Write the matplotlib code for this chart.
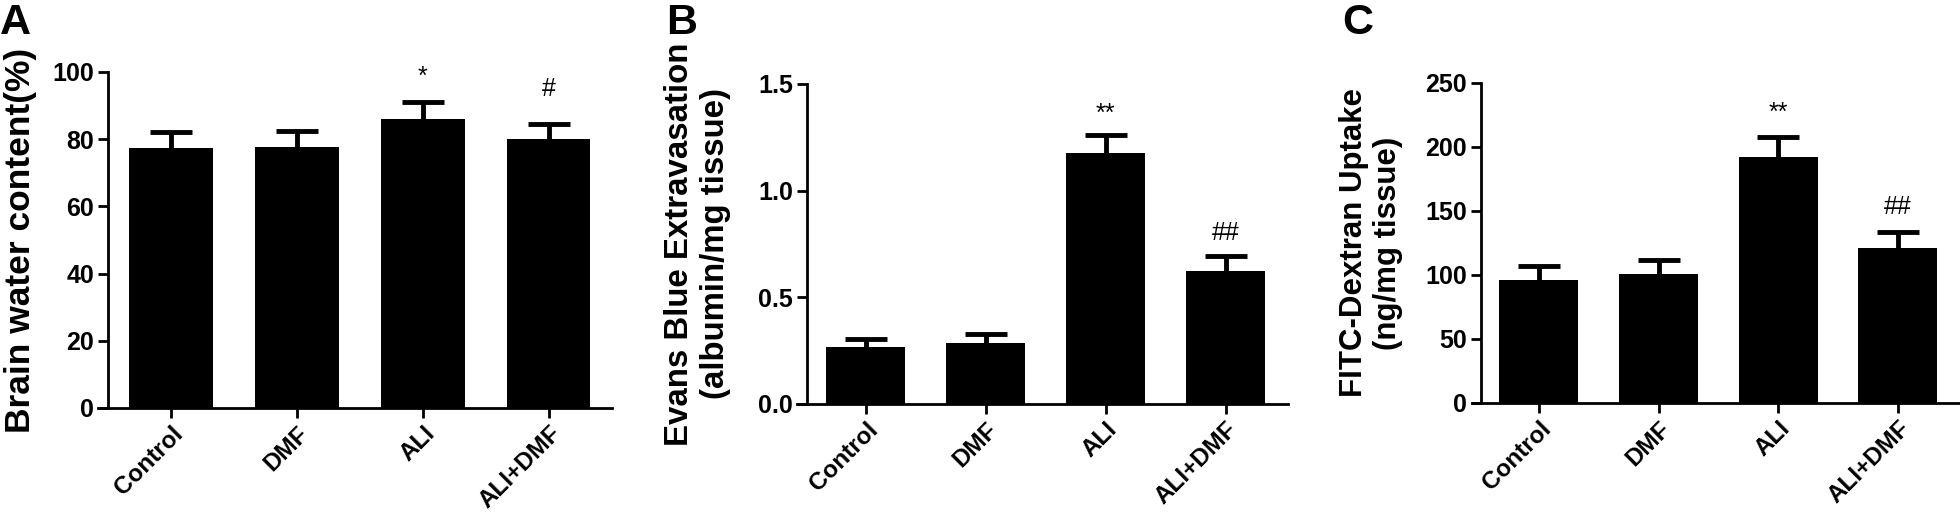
import matplotlib
matplotlib.use('Agg')
import matplotlib.pyplot as plt
import matplotlib.transforms as mtransforms

plt.rcParams['font.family'] = ['Liberation Sans', 'DejaVu Sans']

# Datos
grupos = ['Control', 'DMF', 'ALI', 'ALI+DMF']

agua_media = [77.3, 77.7, 85.9, 80.0]
agua_error = [4.9, 4.8, 5.2, 4.6]
agua_marcas = ['', '', '*', '#']
agua_marcas_y = [0, 0, 98.5, 95.0]

evans_media = [0.269, 0.284, 1.177, 0.625]
evans_error = [0.036, 0.043, 0.084, 0.069]
evans_marcas = ['', '', '**', '##']
evans_marcas_y = [0, 0, 1.36, 0.80]

fitc_media = [96.1, 100.8, 191.9, 121.3]
fitc_error = [10.9, 10.9, 16.0, 12.5]
fitc_marcas = ['', '', '**', '##']
fitc_marcas_y = [0, 0, 227, 153]

paneles = [
    dict(letra='A', media=agua_media, error=agua_error, marcas=agua_marcas,
         marcas_y=agua_marcas_y, ylim=100, yticks=[0, 20, 40, 60, 80, 100],
         yticklabels=['0', '20', '40', '60', '80', '100'],
         ylabel='Brain water content(%)', ylsize=25.5,
         rect=[0.0500, 0.2154, 0.2622, 0.6462], xl=-0.58, yx=-0.50, xr=3.5,
         letra_x=0.0, ylab_x=0.002),
    dict(letra='B', media=evans_media, error=evans_error, marcas=evans_marcas,
         marcas_y=evans_marcas_y, ylim=1.5, yticks=[0, 0.5, 1.0, 1.5],
         yticklabels=['0.0', '0.5', '1.0', '1.5'],
         ylabel='Evans Blue Extravasation\n(albumin/mg tissue)', ylsize=23.8,
         rect=[0.4066, 0.2231, 0.2505, 0.6154], xl=-0.575, yx=-0.49, xr=3.52,
         letra_x=0.340, ylab_x=0.339),
    dict(letra='C', media=fitc_media, error=fitc_error, marcas=fitc_marcas,
         marcas_y=fitc_marcas_y, ylim=250, yticks=[0, 50, 100, 150, 200, 250],
         yticklabels=['0', '50', '100', '150', '200', '250'],
         ylabel='FITC-Dextran Uptake\n(ng/mg tissue)', ylsize=22.5,
         rect=[0.7510, 0.2250, 0.2485, 0.6154], xl=-0.56, yx=-0.485, xr=3.51,
         letra_x=0.685, ylab_x=0.683),
]

fig = plt.figure(figsize=(19.6, 5.2), dpi=100)

for p in paneles:
    ax = fig.add_axes(p['rect'])
    x = list(range(len(grupos)))
    ax.bar(x, p['media'], width=0.66, color='black', zorder=2)
    barras_err = ax.errorbar(x, p['media'], yerr=[[0] * len(grupos), p['error']],
                             fmt='none', ecolor='black', elinewidth=3.5,
                             capsize=15, capthick=3.5, zorder=1)
    # solo la barra de error superior
    barras_err[1][0].set_visible(False)
    for xi, m, my in zip(x, p['marcas'], p['marcas_y']):
        if m:
            ax.text(xi, my, m, ha='center', va='center', fontsize=18, color='black')

    ax.set_xlim(p['xl'], p['xr'])
    ax.set_ylim(0, p['ylim'])
    ax.spines['top'].set_visible(False)
    ax.spines['right'].set_visible(False)
    ax.spines['left'].set_position(('data', p['yx']))
    ax.spines['left'].set_linewidth(2)
    ax.spines['bottom'].set_linewidth(2)

    ax.set_yticks(p['yticks'])
    ax.set_yticklabels(p['yticklabels'], fontsize=18, fontweight='bold')
    ax.set_xticks(x)
    ax.set_xticklabels(grupos, fontsize=17.5, fontweight='bold', rotation=45,
                       ha='right', va='top', rotation_mode='anchor')
    desplaza = mtransforms.ScaledTranslation(2.5 / 72, -8.5 / 72, fig.dpi_scale_trans)
    for lab in ax.get_xticklabels():
        lab.set_transform(lab.get_transform() + desplaza)
    ax.tick_params(axis='both', direction='out', length=7, width=2, pad=3)

    fig.text(p['letra_x'], 0.995, p['letra'], fontsize=31, fontweight='bold',
             ha='left', va='top')
    fig.text(p['ylab_x'], (p['rect'][1] + p['rect'][1] + p['rect'][3]) / 2,
             p['ylabel'], fontsize=p['ylsize'], fontweight='bold', rotation=90,
             ha='left', va='center', multialignment='center', linespacing=1.2)

fig.savefig('out.png', dpi=100)
